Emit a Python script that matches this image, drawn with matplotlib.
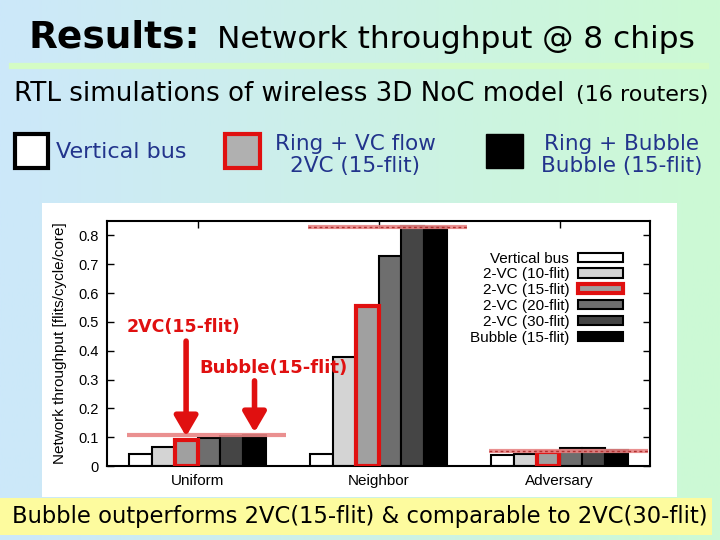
import matplotlib
matplotlib.use("Agg")
import matplotlib.pyplot as plt
import numpy as np
from matplotlib.patches import Rectangle
from matplotlib.lines import Line2D

# DATA
groups = ['Uniform', 'Neighbor', 'Adversary']
series = ['Vertical bus', '2-VC (10-flit)', '2-VC (15-flit)',
          '2-VC (20-flit)', '2-VC (30-flit)', 'Bubble (15-flit)']
vertical_bus = [0.040, 0.040, 0.037]
vc10 = [0.066, 0.378, 0.042]
vc15 = [0.089, 0.555, 0.047]
vc20 = [0.098, 0.728, 0.062]
vc30 = [0.104, 0.832, 0.062]
bubble = [0.106, 0.830, 0.054]
bubble_level = [0.107, 0.830, 0.052]
yticks = [0, 0.1, 0.2, 0.3, 0.4, 0.5, 0.6, 0.7, 0.8]
yticklabels = ['0', '0.1', '0.2', '0.3', '0.4', '0.5', '0.6', '0.7', '0.8']

values = [vertical_bus, vc10, vc15, vc20, vc30, bubble]
fills = ['white', '#d4d4d4', '#a0a0a0', '#6e6e6e', '#454545', 'black']
RED = '#e01010'
BLUE = '#22348c'

W, H = 720, 540
fx = lambda px: px / W
fy = lambda py: 1 - py / H

fig = plt.figure(figsize=(7.2, 5.4), dpi=100)

# background gradient
bg = fig.add_axes([0, 0, 1, 1], zorder=-10)
c0 = np.array([204, 232, 250]) / 255
c1 = np.array([204, 250, 212]) / 255
t = np.linspace(0, 1, 256)[None, :, None]
bg.imshow(c0 + (c1 - c0) * t, aspect='auto', extent=[0, 1, 0, 1])
bg.set_xlim(0, 1)
bg.set_ylim(0, 1)
bg.axis('off')

# titles
fig.text(fx(28), fy(37), 'Results:', fontsize=27, fontweight='bold',
         va='center', ha='left')
fig.text(fx(217), fy(39), 'Network throughput @ 8 chips', fontsize=22.5,
         va='center', ha='left')
fig.add_artist(Line2D([fx(12), fx(706)], [fy(66), fy(66)],
                      color='#d4fcc4', lw=4.5, zorder=-5))
fig.text(fx(14), fy(94), 'RTL simulations of wireless 3D NoC model',
         fontsize=18.8, va='center', ha='left')
fig.text(fx(708), fy(95), '(16 routers)', fontsize=16, va='center', ha='right')

# top legend row
fig.add_artist(Rectangle((fx(15), fy(168)), fx(33), 34 / H, facecolor='white',
                         edgecolor='black', lw=3, zorder=2))
fig.text(fx(56), fy(152), 'Vertical bus', fontsize=16, color=BLUE,
         va='center', ha='left')
fig.add_artist(Rectangle((fx(225), fy(168)), fx(35), 34 / H, facecolor='#b0b0b0',
                         edgecolor=RED, lw=3, zorder=2))
fig.text(fx(355), fy(155), 'Ring + VC flow\n2VC (15-flit)', fontsize=15.5,
         color=BLUE, va='center', ha='center', linespacing=1.1)
fig.add_artist(Rectangle((fx(486), fy(168)), fx(37), 34 / H, facecolor='black',
                         edgecolor='black', lw=1, zorder=2))
fig.text(fx(622), fy(155), 'Ring + Bubble\nBubble (15-flit)', fontsize=15.5,
         color=BLUE, va='center', ha='center', linespacing=1.1)

# white chart panel
fig.add_artist(Rectangle((fx(42), fy(497)), fx(677 - 42), (497 - 203) / H,
                         facecolor='white', edgecolor='none', zorder=-5))

# bottom banner
fig.add_artist(Rectangle((0, fy(535)), fx(712), (535 - 498) / H,
                         facecolor='#fdfb9e', edgecolor='none', zorder=-4))
fig.text(fx(360), fy(517),
         'Bubble outperforms 2VC(15-flit) & comparable to 2VC(30-flit)',
         fontsize=16.3, va='center', ha='center')

# chart
ax = fig.add_axes([fx(107), fy(466), fx(650 - 107), (466 - 221) / H])
x = np.arange(len(groups))
bw = 0.126
handles = []
for i, (vals, fc) in enumerate(zip(values, fills)):
    pos = x + (i - 2.5) * bw
    if series[i] == '2-VC (15-flit)':
        b = ax.bar(pos, vals, bw, facecolor=fc, edgecolor=RED, lw=3,
                   label=series[i], zorder=3)
    else:
        b = ax.bar(pos, vals, bw, facecolor=fc, edgecolor='black', lw=1.5,
                   label=series[i], zorder=2)
    handles.append(b)

# bubble level lines
for j, lvl in enumerate(bubble_level):
    ax.plot([x[j] - 0.39, x[j] + 0.49], [lvl, lvl], color='#e88484',
            lw=3, alpha=0.9, zorder=4, solid_capstyle='butt')
    if j > 0:
        ax.plot([x[j] - 0.39, x[j] + 0.49], [lvl, lvl], color='#b03030',
                lw=1, ls=(0, (2, 2)), zorder=5)

ax.set_xlim(-0.5, 2.5)
ax.set_ylim(0, 0.85)
ax.set_xticks(x)
ax.set_xticklabels(groups, fontsize=11, family='Liberation Sans')
ax.set_yticks(yticks)
ax.set_yticklabels(yticklabels, fontsize=10.5, family='Liberation Sans')
ax.tick_params(direction='in', top=True, right=True, labelright=False,
               length=5, width=1, pad=6)
for s in ax.spines.values():
    s.set_linewidth(1.5)
ax.set_ylabel('Network throughput [flits/cycle/core]', fontsize=11,
              family='Liberation Sans')
ax.yaxis.set_label_coords(-0.073, 0.5)

leg = ax.legend(handles=handles, loc='upper right', markerfirst=False,
                frameon=False, bbox_to_anchor=(0.951, 0.875), borderaxespad=0,
                borderpad=0, labelspacing=0.12, handlelength=2.95,
                handleheight=0.55, handletextpad=0.6,
                prop={'family': 'Liberation Sans', 'size': 11})
for txt in leg.get_texts():
    txt.set_ha('right')

# annotations
arrow = dict(arrowstyle='-|>,head_width=0.35,head_length=0.6',
             color=RED, lw=4, mutation_scale=20)
ax.annotate('', xy=(x[0] - 0.5 * bw, 0.093), xytext=(x[0] - 0.5 * bw, 0.443),
            arrowprops=arrow, zorder=6)
ax.text(-0.39, 0.481, '2VC(15-flit)', color=RED, fontsize=12.5,
        fontweight='bold', va='center', ha='left', zorder=6)
ax.annotate('', xy=(x[0] + 2.5 * bw, 0.107), xytext=(x[0] + 2.5 * bw, 0.305),
            arrowprops=arrow, zorder=6)
ax.text(0.008, 0.339, 'Bubble(15-flit)', color=RED, fontsize=13,
        fontweight='bold', va='center', ha='left', zorder=6)

fig.savefig('out.png', dpi=100)
